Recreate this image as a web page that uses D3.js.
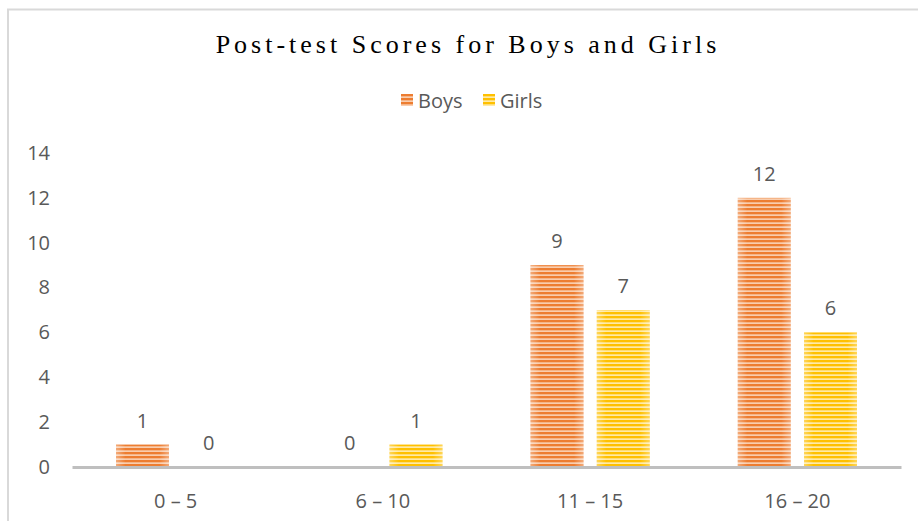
<!DOCTYPE html>
<html>
<head>
<meta charset="utf-8">
<script src="https://cdn.jsdelivr.net/npm/d3@7"></script>
<style>
  body { margin: 0; background: #fff; }
  text { font-family: "Open Sans", Lato, sans-serif; fill: #595959; }
</style>
</head>
<body>
<script>
const w = 918;
const h = 521;

const categories = ["0 \u2013 5", "6 \u2013 10", "11 \u2013 15", "16 \u2013 20"];
const seriesNames = ["Boys", "Girls"];
const boys = [1, 0, 9, 12];
const girls = [0, 1, 7, 6];
const yTicks = [0, 2, 4, 6, 8, 10, 12, 14];

const colors = {
  Boys: { dark: "#ED7D31", light: "#F9CDAE" },
  Girls: { dark: "#FFC000", light: "#FFEAA6" }
};

const svg = d3.select("body").append("svg")
  .attr("width", w)
  .attr("height", h);

const defs = svg.append("defs");

// striped fills
seriesNames.forEach(s => {
  const p = defs.append("pattern")
    .attr("id", "stripe-" + s)
    .attr("patternUnits", "userSpaceOnUse")
    .attr("width", 8)
    .attr("height", 4);
  p.append("rect").attr("width", 8).attr("height", 4).attr("fill", colors[s].light);
  p.append("rect").attr("width", 8).attr("height", 2.3).attr("fill", colors[s].dark);
});

// soft light edges on each bar
const edge = defs.append("linearGradient").attr("id", "edge");
edge.append("stop").attr("offset", "0%").attr("stop-color", "#fff").attr("stop-opacity", 0.35);
edge.append("stop").attr("offset", "18%").attr("stop-color", "#fff").attr("stop-opacity", 0);
edge.append("stop").attr("offset", "82%").attr("stop-color", "#fff").attr("stop-opacity", 0);
edge.append("stop").attr("offset", "100%").attr("stop-color", "#fff").attr("stop-opacity", 0.35);

// chart frame
svg.append("path")
  .attr("d", "M8,521 V9.5 H918")
  .attr("fill", "none")
  .attr("stroke", "#d9d9d9")
  .attr("stroke-width", 2);

const x0 = d3.scaleBand()
  .domain(categories)
  .range([72, 901]);

const x1 = d3.scaleBand()
  .domain(seriesNames)
  .range([44, x0.bandwidth() - 44])
  .paddingInner(0.2);

const y = d3.scaleLinear()
  .domain([0, 14])
  .range([467, 153]);

// title
svg.append("text")
  .attr("x", 468)
  .attr("y", 53)
  .attr("text-anchor", "middle")
  .style("font-family", "'Liberation Serif', 'Times New Roman', serif")
  .style("font-size", "26px")
  .style("letter-spacing", "4px")
  .style("fill", "#000")
  .text("Post-test Scores for Boys and Girls");

// legend
const legend = svg.append("g").attr("transform", "translate(401,94)");
const legendX = [0, 82];
seriesNames.forEach((s, i) => {
  legend.append("rect")
    .attr("x", legendX[i])
    .attr("y", 0)
    .attr("width", 12)
    .attr("height", 12)
    .attr("fill", "url(#stripe-" + s + ")");
  legend.append("text")
    .attr("x", legendX[i] + 17)
    .attr("y", 14)
    .style("font-size", "20px")
    .text(s);
});

// y axis labels (no line)
const yAxis = svg.append("g")
  .attr("transform", "translate(50,0)")
  .call(d3.axisLeft(y).tickValues(yTicks).tickSize(0).tickPadding(0));
yAxis.select(".domain").remove();
yAxis.selectAll("text")
  .style("font-size", "20px")
  .style("font-family", "'Open Sans', Lato, sans-serif")
  .attr("fill", "#595959");

// bars
const data = categories.map((c, i) => ({ cat: c, values: [
  { key: "Boys", value: boys[i] },
  { key: "Girls", value: girls[i] }
] }));

const groups = svg.selectAll(".group")
  .data(data)
  .enter()
  .append("g")
  .attr("class", "group")
  .attr("transform", d => "translate(" + x0(d.cat) + ",0)");

groups.selectAll("rect.bar")
  .data(d => d.values)
  .enter()
  .append("rect")
  .attr("class", "bar")
  .attr("x", d => x1(d.key))
  .attr("y", d => y(d.value))
  .attr("width", x1.bandwidth())
  .attr("height", d => y(0) - y(d.value))
  .attr("fill", d => "url(#stripe-" + d.key + ")");

groups.selectAll("rect.shine")
  .data(d => d.values)
  .enter()
  .append("rect")
  .attr("class", "shine")
  .attr("x", d => x1(d.key))
  .attr("y", d => y(d.value))
  .attr("width", x1.bandwidth())
  .attr("height", d => y(0) - y(d.value))
  .attr("fill", "url(#edge)");

// value labels
groups.selectAll("text.val")
  .data(d => d.values)
  .enter()
  .append("text")
  .attr("class", "val")
  .attr("x", d => x1(d.key) + x1.bandwidth() / 2)
  .attr("y", d => y(d.value) - 17)
  .attr("text-anchor", "middle")
  .style("font-size", "20px")
  .text(d => d.value);

// x axis
const xAxis = svg.append("g")
  .attr("transform", "translate(0," + y(0) + ")")
  .call(d3.axisBottom(x0).tickSize(0).tickPadding(27));
xAxis.select(".domain")
  .attr("stroke", "#bfbfbf")
  .attr("stroke-width", 3);
xAxis.selectAll("text")
  .style("font-size", "20px")
  .style("font-family", "'Open Sans', Lato, sans-serif")
  .attr("fill", "#595959");
</script>
</body>
</html>
